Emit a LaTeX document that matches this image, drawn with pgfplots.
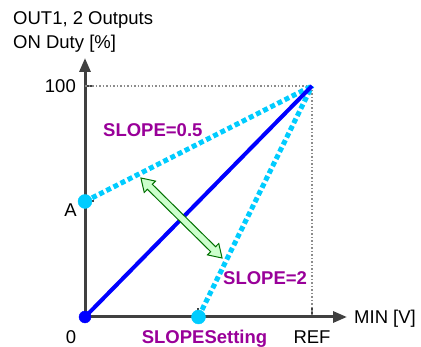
\documentclass[border=0pt]{standalone}
\usepackage{pgfplots}
\pgfplotsset{compat=1.18}
\usepackage{fontspec}
\setmainfont{Liberation Sans}
\usetikzlibrary{arrows.meta,shapes.arrows}
\definecolor{axgray}{RGB}{64,64,64}
\definecolor{cyanl}{RGB}{0,204,255}
\definecolor{purp}{RGB}{153,0,153}
\definecolor{ltgreen}{RGB}{204,255,204}
\definecolor{dgreen}{RGB}{0,112,0}
\definecolor{refgray}{RGB}{140,140,140}
\begin{document}
\begin{tikzpicture}[x=1pt,y=1pt]
\useasboundingbox (0,0) rectangle (421,-347);
\begin{axis}[
  at={(85pt,-317pt)}, anchor=origin,
  scale only axis, width=262pt, height=259pt,
  xmin=0, xmax=1.1542, ymin=0, ymax=112.1,
  axis lines=left,
  axis line style={line width=3pt, axgray, -{Triangle[length=14pt,width=11pt]}},
  xtick={0.5,1}, ytick={50,100},
  xticklabels={}, yticklabels={},
  tick align=inside, major tick length=9pt,
  tick style={axgray, line width=2pt},
  clip=false,
]
\addplot[refgray, line width=1.5pt, dotted] coordinates {(0,100) (1,100) (1,0)};
\addplot[cyanl, line width=5pt, dash pattern=on 5pt off 3pt] coordinates {(0,50) (1,100)};
\addplot[cyanl, line width=5pt, dash pattern=on 5pt off 3pt] coordinates {(0.5,0) (1,100)};
\addplot[blue, line width=4pt] coordinates {(0,0) (1,100)};
\addplot[only marks, mark=*, mark size=7pt, cyanl, mark options={draw=cyanl, fill=cyanl}] coordinates {(0,50) (0.5,0)};
\addplot[only marks, mark=*, mark size=6pt, blue, mark options={draw=blue, fill=blue}] coordinates {(0,0)};
\end{axis}
\node[double arrow, draw=dgreen, fill=ltgreen, line width=1pt, rotate=-44.6,
  minimum width=16pt, minimum height=114pt, inner xsep=0pt, inner ysep=3pt,
  double arrow head extend=4.5pt, double arrow tip angle=65] at (181.5,-218) {};
\fontsize{18.5}{22}\selectfont
\tikzset{every node/.style={inner sep=0pt}}
\node[anchor=base west] at (13,-25) {OUT1, 2 Outputs};
\node[anchor=base west] at (13,-48.5) {ON Duty [\%]};
\node[anchor=base east] at (76,-92.6) {100};
\node[anchor=base] at (70.5,-216.7) {A};
\node[anchor=base] at (71,-343.3) {0};
\node[anchor=base] at (312,-343.3) {REF};
\node[anchor=base, text=purp, font=\bfseries] at (204.5,-343.3) {SLOPESetting};
\node[anchor=base west] at (354,-323.3) {MIN [V]};
\node[anchor=base west, text=purp, font=\bfseries] at (223,-285) {SLOPE=2};
\node[anchor=base west, text=purp, font=\bfseries] at (103,-136.7) {SLOPE=0.5};
\end{tikzpicture}
\end{document}
